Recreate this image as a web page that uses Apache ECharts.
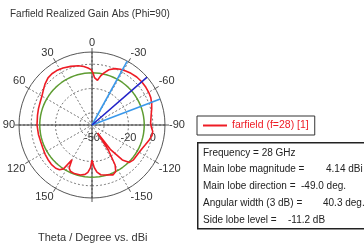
<!DOCTYPE html>
<html>
<head>
<meta charset="UTF-8">
<script src="https://cdn.jsdelivr.net/npm/echarts@6/dist/echarts.min.js"></script>
<style>html,body{margin:0;padding:0;background:#fff}</style>
</head>
<body>
<div id="chart" style="width:364px;height:248px"></div>
<script>
// Phi=90 cut, theta in degrees (0 top, positive to the left), realized gain in dBi
var theta = [-180,-177,-174,-170,-165,-160,-157,-153,-150,-147,-145,-143,-139,-135,-130,-125,-120,-115,-110,-105,-100,-96,-92,-88,-84,-80,-75,-70,-65,-60,-55,-49,-43,-37,-32,-27,-22,-17,-13,-10,-7,-5,-3,-1,1,4,8,13,20,27,33,38,43,49,55,60,66,73,80,90,100,108,115,122,128,134,140,144,147,150,152,155,160,167,172,175,178,180];
var gain  = [-21,-15,-11,-8.5,-7.5,-6.5,-5.5,-7,-12,-25,-42,-25,-12,-6.5,-5.5,-5.5,-5.2,-4.5,-3.2,-1.5,0,0.2,-1.2,-1.8,-1.3,-0.6,0.8,2.2,3.3,3.8,4.05,4.14,3.9,3.2,2.3,1.4,0,-2.5,-6,-9,-13,-14.2,-11,-7,-4.5,-3,-1.5,0,1.3,2.5,3.3,3.5,3,1.2,-1,-2.5,-3.4,-4,-4.5,-4.8,-5.3,-5.7,-5.4,-4.6,-4,-3.5,-3.6,-4.5,-7,-17,-10,-8,-7.5,-7.8,-9,-11,-15,-21];

var radiusMin = -50, radiusMax = 10;
var gridRings = [-40, -20, 0];
var radiusLabels = [-50, -20, 0];
var mainLobeMag = 4.14, mainLobeDir = -49.0, angularWidth = 40.3, sideLobeLevel = -11.2;

var infoLabels = ['Frequency = 28 GHz', 'Main lobe magnitude =', 'Main lobe direction =', 'Angular width (3 dB) =', 'Side lobe level ='];
var infoValues = ['', '4.14 dBi', '-49.0 deg.', '40.3 deg.', '-11.2 dB'];

var font = 'Liberation Sans';
var chart = echarts.init(document.getElementById('chart'));

function ring(r) {
  var pts = [];
  for (var t = -180; t <= 180; t += 4) pts.push([r, t]);
  return pts;
}
function ray(t) { return [[radiusMin, t], [radiusMax, t]]; }

var redData = theta.map(function (t, i) { return [gain[i], t]; });
var sllAbs = mainLobeMag + sideLobeLevel;
var beamEdges = [mainLobeDir + angularWidth / 2, mainLobeDir - angularWidth / 2];

function polarLine(data, style, z, name) {
  var s = {type: 'line', coordinateSystem: 'polar', polarIndex: 0, data: data, showSymbol: false,
    clip: false, lineStyle: style, itemStyle: {color: style.color}, silent: true, z: z};
  if (name) s.name = name;
  return s;
}

var series = [];
gridRings.forEach(function (r) {
  series.push(polarLine(ring(r), {color: '#777', width: 1, type: [2, 2]}, 1));
});
series.push(polarLine([[radiusMax + 1, 90], [radiusMin, 0], [radiusMax + 1, -90]], {color: '#333', width: 1}, 2));
series.push(polarLine([[radiusMax + 1, 0], [radiusMin, 0], [radiusMax, 180]], {color: '#333', width: 1}, 2));
series.push(polarLine(ring(sllAbs), {color: '#5e9c32', width: 1.5}, 3));
series.push(polarLine(redData, {color: '#ee1c25', width: 1.6}, 4, 'farfield (f=28) [1]'));
beamEdges.forEach(function (t) {
  series.push(polarLine(ray(t), {color: '#3a98ea', width: 1.6}, 5));
});
series.push(polarLine(ray(mainLobeDir), {color: '#2323c8', width: 1.6}, 6));

var infoFont = '10px "' + font + '"';
var infoGraphics = [{type: 'rect', left: 197, top: 142, shape: {width: 180, height: 86},
  style: {fill: '#fff', stroke: '#222', lineWidth: 1.5}}];
var valueX = [0, 326, 301, 323, 288];
infoLabels.forEach(function (s, i) {
  infoGraphics.push({type: 'text', left: 203, top: 148 + i * 16.7,
    style: {text: s, fill: '#222', font: infoFont}});
  if (infoValues[i]) {
    infoGraphics.push({type: 'text', left: valueX[i], top: 148 + i * 16.7,
      style: {text: infoValues[i], fill: '#222', font: infoFont}});
  }
});
infoGraphics.push({type: 'text', left: 38, top: 232,
  style: {text: 'Theta / Degree vs. dBi', fill: '#333', font: '11px "' + font + '"'}});

chart.setOption({
  animation: false,
  title: {text: 'Farfield Realized Gain Abs (Phi=90)', left: 10, top: 9, padding: 0,
    textStyle: {fontSize: 10, fontWeight: 'normal', color: '#333', fontFamily: font}},
  legend: {data: ['farfield (f=28) [1]'], left: 197, top: 116, orient: 'vertical',
    icon: 'rect', itemWidth: 24, itemHeight: 2, itemGap: 4, padding: [4, 6, 4, 6],
    borderColor: '#333', borderWidth: 1, backgroundColor: '#fff',
    textStyle: {color: '#ee1c25', fontSize: 10.5, fontFamily: font}},
  polar: [
    {center: [92, 125], radius: 73},
    {center: [92, 125], radius: 73}
  ],
  angleAxis: [
    {polarIndex: 0, type: 'value', min: -180, max: 180, interval: 30, startAngle: 270, clockwise: false,
      axisLine: {lineStyle: {color: '#555', width: 1}},
      axisTick: {show: true, length: 4, lineStyle: {color: '#555'}},
      axisLabel: {margin: 4, color: '#333', fontSize: 11, fontFamily: font,
        formatter: function (v) { return v === -180 ? '' : String(v); }},
      splitLine: {show: true, lineStyle: {color: '#777', width: 1, type: [2, 2]}}},
    {polarIndex: 1, type: 'value', min: 0, max: 360, startAngle: 0, show: false}
  ],
  radiusAxis: [
    {polarIndex: 0, type: 'value', min: radiusMin, max: radiusMax, interval: 10,
      axisLine: {show: false}, axisTick: {show: false}, axisLabel: {show: false}, splitLine: {show: false}},
    {polarIndex: 1, type: 'value', min: radiusMin, max: radiusMax, interval: 10,
      axisLine: {show: false}, axisTick: {show: false}, splitLine: {show: false},
      axisLabel: {color: '#333', fontSize: 11, fontFamily: font, margin: -7, align: 'center', verticalAlign: 'top',
        formatter: function (v) { return radiusLabels.indexOf(v) >= 0 ? String(v) : ''; }}}
  ],
  graphic: infoGraphics,
  series: series
});
</script>
</body>
</html>
